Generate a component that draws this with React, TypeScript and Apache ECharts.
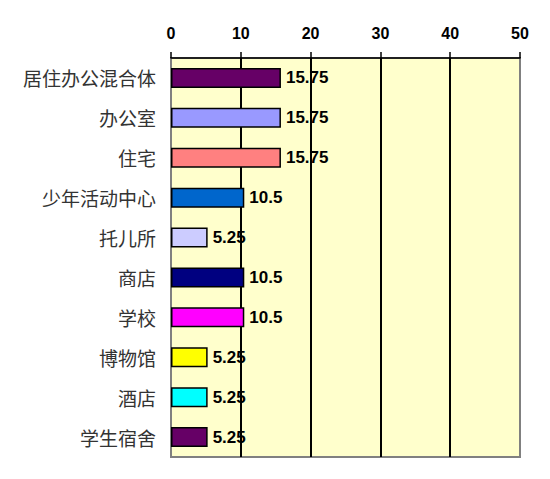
import { useEffect, useRef } from 'react';
import * as echarts from 'echarts';

const CATEGORIES = [
  '居住办公混合体', '办公室', '住宅', '少年活动中心', '托儿所',
  '商店', '学校', '博物馆', '酒店', '学生宿舍',
];
const VALUES = [15.75, 15.75, 15.75, 10.5, 5.25, 10.5, 10.5, 5.25, 5.25, 5.25];
const BAR_COLORS = [
  '#660066', '#9999ff', '#ff8080', '#0066cc', '#ccccff',
  '#000080', '#ff00ff', '#ffff00', '#00ffff', '#660066',
];

export default function App() {
  const chartRef = useRef<HTMLDivElement>(null);

  useEffect(() => {
    if (!chartRef.current) return;
    const chart = echarts.init(chartRef.current, undefined, { renderer: 'svg' });
    chart.setOption({
      animation: false,
      backgroundColor: '#ffffff',
      grid: {
        show: true,
        left: 171,
        right: 30,
        top: 58,
        bottom: 22,
        containLabel: false,
        backgroundColor: '#ffffcc',
        borderColor: '#808080',
        borderWidth: 2,
      },
      xAxis: {
        type: 'value',
        position: 'top',
        min: 0,
        max: 50,
        interval: 10,
        axisLine: { show: true, lineStyle: { color: '#000', width: 1.5 } },
        axisTick: { show: true, inside: false, length: 6, lineStyle: { color: '#000', width: 1.5 } },
        axisLabel: {
          color: '#000',
          fontFamily: 'Arial, "Liberation Sans", sans-serif',
          fontWeight: 'bold',
          fontSize: 16,
          margin: 17,
        },
        splitLine: {
          show: true,
          showMinLine: false,
          showMaxLine: false,
          lineStyle: { color: '#000', width: 2 },
        },
      },
      yAxis: {
        type: 'category',
        inverse: true,
        data: CATEGORIES,
        axisLine: { show: true, lineStyle: { color: '#808080', width: 2 } },
        axisTick: { show: false },
        axisLabel: {
          color: '#333',
          fontFamily: '"Noto Sans CJK SC", sans-serif',
          fontSize: 19,
          margin: 15,
        },
        splitLine: { show: false },
      },
      series: [
        {
          type: 'bar',
          barWidth: 20,
          data: VALUES.map((v, i) => ({
            value: v,
            itemStyle: { color: BAR_COLORS[i], borderColor: '#000', borderWidth: 1.5 },
          })),
          label: {
            show: true,
            position: 'right',
            distance: 5,
            color: '#000',
            fontFamily: 'Arial, "Liberation Sans", sans-serif',
            fontWeight: 'bold',
            fontSize: 17,
          },
        },
      ],
    });

    return () => {
      chart.dispose();
    };
  }, []);

  return (
    <div
      ref={chartRef}
      style={{ position: 'absolute', left: 0, top: 0, width: 550, height: 479 }}
    />
  );
}
